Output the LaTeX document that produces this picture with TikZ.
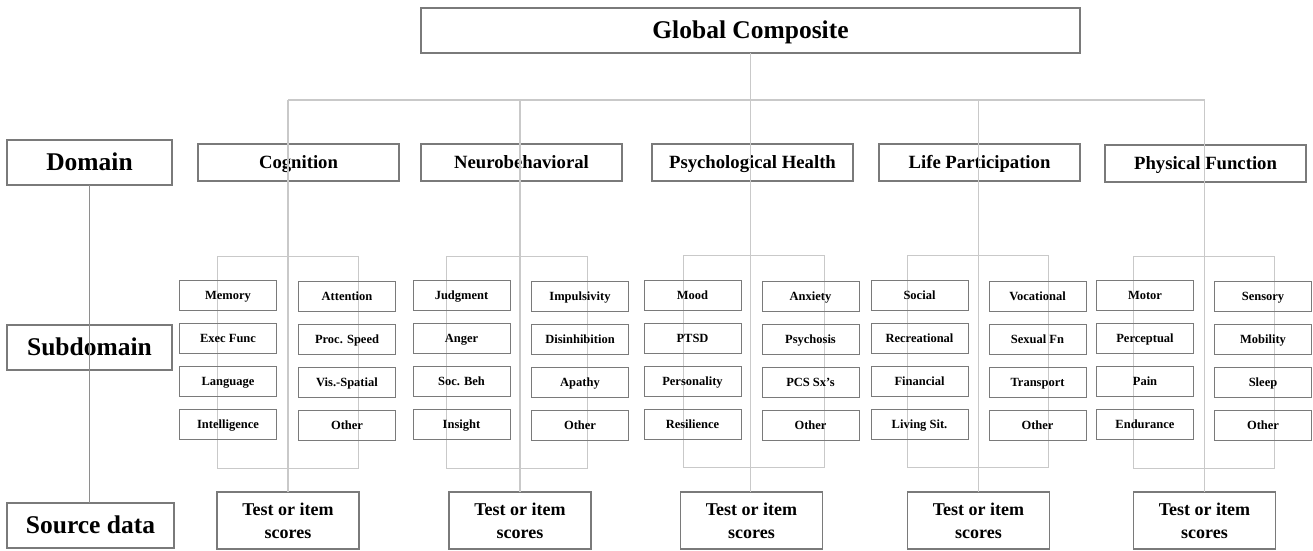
\documentclass[tikz,border=0pt]{standalone}
\usepackage{fontspec}
\setmainfont{Liberation Serif}
\definecolor{boxgray}{HTML}{7A7A7A}
\definecolor{linegray}{HTML}{C9C9C9}
\definecolor{axisgray}{HTML}{8E8E8E}
\begin{document}
\begin{tikzpicture}[x=1pt,y=-1pt,
  every node/.style={inner sep=0pt, outer sep=0pt},
  topbox/.style={rectangle, text height=16.8pt, text depth=0pt, draw=boxgray, line width=1.2pt, minimum width=659pt, minimum height=45pt, font=\fontsize{25.5}{30}\selectfont\bfseries},
  levelbox/.style={rectangle, text height=16.8pt, text depth=0pt, draw=boxgray, line width=1.2pt, minimum width=165pt, minimum height=45pt, font=\fontsize{25.5}{30}\selectfont\bfseries},
  dombox/.style={rectangle, text height=12.3pt, text depth=0pt, draw=boxgray, line width=1.1pt, minimum width=201pt, minimum height=37pt, font=\fontsize{18.7}{22}\selectfont\bfseries},
  itembox/.style={rectangle, text height=8.3pt, text depth=0pt, draw=boxgray, line width=1pt, minimum width=97pt, minimum height=30pt, font=\fontsize{12.5}{15}\selectfont\bfseries},
  testbox/.style={rectangle, draw=boxgray, line width=1.1pt, minimum width=142pt, minimum height=57pt, align=center, font=\fontsize{18}{23}\selectfont\bfseries},
  grpbox/.style={rectangle, draw=linegray, line width=1pt, minimum width=141pt, minimum height=212pt},
  conn/.style={draw=linegray, line width=1.2pt},
  axis/.style={draw=axisgray, line width=1.2pt}
]
\useasboundingbox (0,0) rectangle (1313,550);

% top
\node[topbox] (global) at (750.5,30.5) {Global Composite};

% level labels
\node[levelbox] (domain) at (89.5,162.5) {Domain};
\node[levelbox] (subdomain) at (89.5,347.5) {Subdomain};
\node[levelbox, minimum width=167pt] (source) at (90.5,525.5) {Source data};

% domains
\node[dombox] (cog) at (298.5,162.5) {Cognition};
\node[dombox] (neu) at (521.5,162.5) {Neurobehavioral};
\node[dombox] (psy) at (752.5,162.5) {Psychological Health};
\node[dombox] (life) at (979.5,162.5) {Life Participation};
\node[dombox] (phys) at (1205.5,163.5) {Physical Function};

% group frames
\node[grpbox] (gcog) at (287.5,362) {};
\node[grpbox] (gneu) at (516.5,362) {};
\node[grpbox] (gpsy) at (753.5,361) {};
\node[grpbox] (glife) at (978,361) {};
\node[grpbox] (gphys) at (1204,362) {};

% subdomain items
\foreach \g/\xl/\xr/\la/\lb/\lc/\ld/\ra/\rb/\rc/\rd in {
  cog/228/347/Memory/Exec Func/Language/Intelligence/Attention/Proc. Speed/Vis.-Spatial/Other,
  neu/461.5/580/Judgment/Anger/Soc. Beh/Insight/Impulsivity/Disinhibition/Apathy/Other,
  psy/692.5/810.5/Mood/PTSD/Personality/Resilience/Anxiety/Psychosis/PCS Sx's/Other,
  life/919.5/1037.5/Social/Recreational/Financial/Living Sit./Vocational/Sexual Fn/Transport/Other,
  phys/1145/1263/Motor/Perceptual/Pain/Endurance/Sensory/Mobility/Sleep/Other}
{
  \node[itembox] (\g-l1) at (\xl,295) {\la};
  \node[itembox] (\g-l2) at (\xl,338) {\lb};
  \node[itembox] (\g-l3) at (\xl,381) {\lc};
  \node[itembox] (\g-l4) at (\xl,424) {\ld};
  \node[itembox] (\g-r1) at (\xr,296.5) {\ra};
  \node[itembox] (\g-r2) at (\xr,339.5) {\rb};
  \node[itembox] (\g-r3) at (\xr,382.5) {\rc};
  \node[itembox] (\g-r4) at (\xr,425.5) {\rd};
}

% source data boxes
\node[testbox] (tcog) at (288,520.5) {Test or item\\scores};
\node[testbox] (tneu) at (520,520.5) {Test or item\\scores};
\node[testbox] (tpsy) at (751.5,520.5) {Test or item\\scores};
\node[testbox] (tlife) at (978.5,520.5) {Test or item\\scores};
\node[testbox] (tphys) at (1204.5,520.5) {Test or item\\scores};

% connectors
\coordinate (bus) at (0,100);
\draw[conn] (global.south) -- (global.south |- tpsy.north);
\draw[conn] (tcog.north |- bus) -- (tphys.north |- bus);
\draw[conn] (tcog.north |- bus) -- (tcog.north);
\draw[conn] (tneu.north |- bus) -- (tneu.north);
\draw[conn] (tlife.north |- bus) -- (tlife.north);
\draw[conn] (tphys.north |- bus) -- (tphys.north);

\draw[axis] (domain.south) -- (domain.south |- source.north);
\end{tikzpicture}
\end{document}
